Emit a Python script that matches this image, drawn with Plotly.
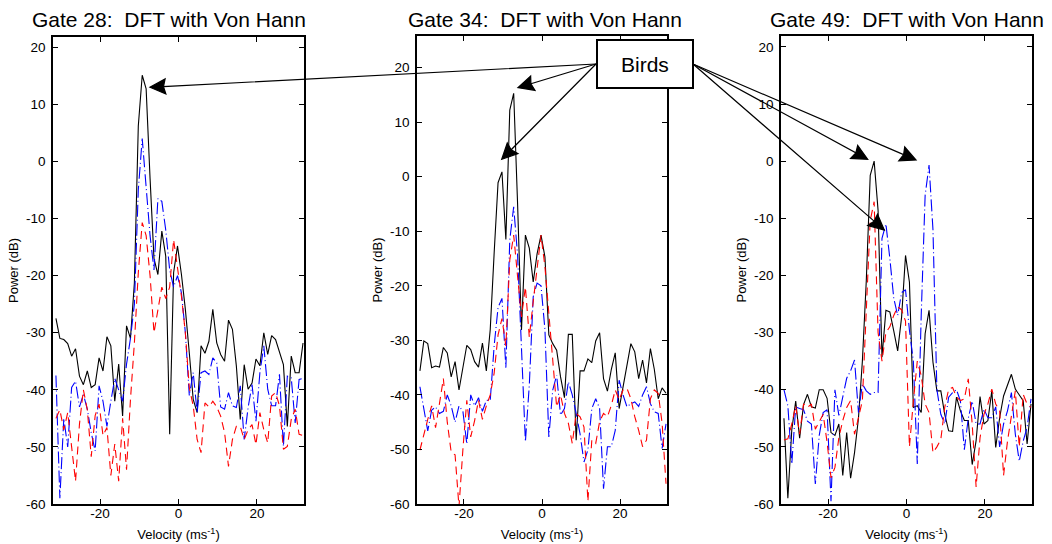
import math
import plotly.graph_objects as go

W, H = 1052, 544

# ---------------- data ----------------
VELOCITY = [-31.25 + k for k in range(64)]  # m/s, 64 Doppler bins
X_TICKS = [-20, 0, 20]
X_TICK_TEXT = ["-20", "0", "20"]
Y_TICKS = [-60, -50, -40, -30, -20, -10, 0, 10, 20]
Y_TICK_TEXT = ["-60", "-50", "-40", "-30", "-20", "-10", "0", "10", "20"]
TITLES = ["Gate 28:\u00a0\u00a0DFT with Von Hann",
          "Gate 34:\u00a0\u00a0DFT with Von Hann",
          "Gate 49:\u00a0\u00a0DFT with Von Hann"]
X_LABEL = "Velocity (ms<sup>-1</sup>)"
Y_LABEL = "Power (dB)"

G28_BLACK = [-27.5, -31.0, -31.2, -31.9, -34.1, -32.8, -37.6, -39.1, -36.7, -39.6, -39.1, -34.4, -36.7, -30.7, -32.3, -42.0,
             -35.5, -44.6, -28.8, -31.0, -21.3, 6.2, 15.1, 12.7, -3.0, -17.0, -19.8, -12.2, -16.6, -47.8, -19.5, -14.8,
             -19.8, -25.9, -33.5, -41.7, -44.0, -32.3, -33.6, -31.5, -25.9, -31.8, -33.8, -35.0, -27.8, -29.4, -35.8, -45.2,
             -35.6, -39.9, -38.8, -34.6, -35.8, -30.0, -33.8, -30.5, -31.2, -33.2, -35.6, -46.4, -34.1, -37.0, -37.0, -31.8]
G28_BLUE = [-37.5, -59.0, -45.0, -50.0, -39.6, -38.5, -43.0, -40.8, -43.4, -47.5, -50.7, -39.3, -42.0, -46.4, -42.0, -38.0,
            -40.0, -42.0, -35.5, -31.0, -25.0, -5.0, 4.0, -4.0, -13.0, -19.0, -6.5, -7.0, -12.0, -19.0, -22.0, -20.0,
            -23.0, -30.0, -41.0, -37.0, -44.0, -37.0, -36.7, -37.3, -34.4, -35.3, -43.0, -43.4, -40.5, -42.8, -43.1, -39.3,
            -48.7, -43.1, -39.1, -45.5, -37.0, -32.3, -39.9, -42.8, -42.8, -37.3, -49.9, -37.6, -37.9, -45.8, -38.2, -38.0]
G28_RED = [-45.0, -43.5, -47.0, -44.0, -50.0, -56.0, -46.0, -40.0, -43.5, -51.7, -44.5, -42.5, -48.0, -46.6, -55.0, -49.5,
           -56.0, -45.0, -54.0, -41.7, -31.8, -19.5, -10.7, -13.0, -20.0, -30.0, -26.0, -22.0, -24.0, -22.0, -13.7, -18.6,
           -23.6, -30.0, -39.6, -42.8, -48.7, -51.0, -42.3, -43.0, -42.0, -43.0, -44.6, -47.5, -53.4, -48.7, -46.4, -46.4,
           -48.7, -47.0, -46.1, -49.6, -44.0, -47.0, -49.3, -41.1, -40.5, -42.8, -50.4, -49.9, -45.2, -43.4, -47.8, -48.0]

G34_BLACK = [-35.6, -30.1, -30.6, -35.0, -34.7, -34.9, -31.3, -32.3, -36.7, -33.9, -39.1, -34.9, -30.9, -31.7, -33.9, -34.9,
             -30.5, -35.6, -28.0, -14.0, -1.1, 0.9, -11.5, 12.2, 15.3, -5.0, -28.1, -10.7, -13.1, -19.3, -14.1, -10.7,
             -14.7, -29.0, -30.6, -31.8, -36.7, -40.5, -28.9, -28.9, -48.3, -35.6, -35.6, -33.4, -34.1, -30.1, -28.6, -37.0,
             -39.3, -35.3, -32.3, -42.5, -38.5, -34.2, -30.6, -32.1, -37.0, -33.6, -37.8, -31.5, -35.3, -40.7, -38.7, -39.7]
G34_BLUE = [-38.5, -42.5, -46.6, -42.8, -42.2, -43.4, -43.0, -40.0, -42.0, -45.0, -42.0, -43.0, -49.0, -40.0, -42.0, -40.5,
            -43.0, -41.0, -41.0, -31.0, -24.0, -22.3, -35.0, -11.6, -5.5, -14.4, -30.0, -48.6, -38.2, -22.0, -19.5, -20.0,
            -28.0, -47.7, -39.1, -36.4, -43.7, -42.5, -37.6, -40.0, -43.4, -47.2, -52.3, -50.1, -42.5, -40.7, -42.5, -57.2,
            -49.5, -49.5, -46.5, -37.3, -40.0, -42.2, -41.6, -41.3, -42.1, -40.0, -38.5, -41.6, -43.1, -43.4, -49.8, -45.3]
G34_RED = [-50.1, -47.0, -44.5, -42.0, -46.0, -41.6, -37.0, -45.0, -50.5, -51.0, -60.5, -50.0, -41.0, -47.7, -44.7, -41.0,
           -44.5, -42.0, -40.0, -36.0, -29.0, -26.0, -31.0, -15.3, -10.7, -18.3, -25.7, -20.2, -29.4, -22.9, -17.1, -10.7,
           -16.5, -25.7, -33.6, -42.2, -40.0, -43.4, -45.2, -48.9, -43.4, -44.0, -45.9, -59.5, -48.3, -48.9, -44.9, -43.4,
           -44.0, -41.9, -39.1, -40.9, -39.1, -38.8, -40.7, -44.0, -46.5, -49.5, -48.3, -40.7, -39.1, -39.7, -45.2, -56.3]

G49_BLACK = [-45.0, -59.0, -47.0, -42.0, -48.5, -42.6, -40.8, -43.0, -43.2, -40.0, -40.0, -41.5, -47.5, -48.0, -46.0, -55.0,
             -47.5, -55.5, -51.0, -45.0, -35.0, -20.9, -2.5, 0.0, -8.6, -34.3, -26.1, -26.4, -29.7, -33.2, -27.3, -16.5,
             -21.2, -43.1, -42.8, -44.0, -30.2, -26.1, -35.2, -40.2, -40.2, -44.3, -47.2, -47.3, -41.3, -43.7, -45.4, -45.4,
             -53.1, -48.9, -41.2, -46.0, -45.4, -40.2, -50.1, -44.9, -41.1, -39.3, -37.3, -39.9, -40.8, -41.9, -49.5, -42.5]
G49_BLUE = [-40.0, -42.8, -53.0, -43.0, -43.3, -43.5, -45.5, -46.0, -56.5, -48.0, -44.0, -43.5, -59.5, -40.0, -44.5, -41.5,
            -38.0, -36.7, -34.8, -44.0, -39.0, -40.2, -40.8, -40.5, -40.5, -13.5, -11.0, -17.0, -24.0, -27.0, -23.0, -22.5,
            -29.6, -35.0, -53.0, -27.0, -6.0, -0.7, -12.0, -40.0, -44.3, -46.0, -41.3, -40.5, -40.0, -42.0, -50.5, -45.0,
            -42.0, -46.0, -46.0, -43.4, -44.9, -44.9, -43.0, -50.0, -46.0, -43.7, -40.5, -47.8, -52.5, -49.0, -46.6, -41.6]
G49_RED = [-48.8, -48.6, -46.0, -42.8, -47.8, -42.5, -43.1, -42.5, -46.9, -45.7, -44.3, -49.2, -55.4, -53.6, -48.4, -45.4,
           -43.1, -41.9, -47.8, -44.9, -41.9, -26.1, -10.4, -7.1, -30.0, -35.0, -30.0, -29.0, -27.0, -25.5, -26.0, -28.0,
           -50.0, -42.0, -35.0, -37.5, -42.5, -44.0, -51.0, -50.0, -48.7, -43.1, -39.9, -39.6, -41.3, -41.9, -41.6, -38.1,
           -46.0, -57.0, -48.4, -44.3, -42.5, -39.9, -42.5, -43.7, -55.0, -49.0, -44.9, -40.2, -50.0, -40.8, -42.5, -43.1]

SERIES = [
    (G28_BLACK, G28_BLUE, G28_RED),
    (G34_BLACK, G34_BLUE, G34_RED),
    (G49_BLACK, G49_BLUE, G49_RED),
]

# ---------------- layout (pixels) ----------------
PANELS = [
    dict(left=53, right=304, top=37, bottom=504, ytop=21.8, title_x=169),
    dict(left=417, right=667, top=36, bottom=504, ytop=25.8, title_x=545),
    dict(left=781, right=1032, top=36, bottom=504, ytop=21.9, title_x=907),
]
FONT = "Liberation Sans, Arial, Helvetica, sans-serif"

STYLES = [
    dict(color="#000000", width=1.1, dash="solid"),
    dict(color="#0000ff", width=1.1, dash="12px,3px,1px,3px"),
    dict(color="#ff0000", width=1.1, dash="8px,5px"),
]

fig = go.Figure()
layout = dict(
    width=W, height=H, margin=dict(l=0, r=0, t=0, b=0),
    paper_bgcolor="white", plot_bgcolor="white", showlegend=False,
    font=dict(family=FONT, color="black", size=13),
)
annotations = []

for k, (p, series) in enumerate(zip(PANELS, SERIES)):
    sfx = "" if k == 0 else str(k + 1)
    xa, ya = "x" + sfx, "y" + sfx
    for vals, st in zip(series, STYLES):
        fig.add_trace(go.Scatter(x=VELOCITY, y=vals, mode="lines", xaxis=xa, yaxis=ya,
                                 line=dict(color=st["color"], width=st["width"], dash=st["dash"]),
                                 hoverinfo="skip"))
    common = dict(showline=True, linecolor="black", linewidth=1.5, mirror="allticks",
                  ticks="inside", ticklen=5, tickwidth=1, tickcolor="black", automargin=False,
                  showgrid=False, zeroline=False, tickfont=dict(family=FONT, size=13.5, color="black"))
    layout["xaxis" + sfx] = dict(domain=[p["left"] / W, p["right"] / W], range=[-32, 32],
                                 tickvals=X_TICKS, ticktext=X_TICK_TEXT, anchor=ya,
                                 ticklabelstandoff=-4,
                                 title=dict(text=X_LABEL, standoff=10, font=dict(family=FONT, size=13, color="black")),
                                 **common)
    layout["yaxis" + sfx] = dict(domain=[1 - p["bottom"] / H, 1 - p["top"] / H], range=[-60, p["ytop"]],
                                 tickvals=Y_TICKS, ticktext=Y_TICK_TEXT, anchor=xa,
                                 ticklabelstandoff=3,
                                 title=dict(text=Y_LABEL, standoff=4, font=dict(family=FONT, size=13, color="black")),
                                 **common)
    annotations.append(dict(text=TITLES[k], x=p["title_x"] / W, y=1 - 20 / H, xref="paper", yref="paper",
                            xanchor="center", yanchor="middle", showarrow=False,
                            font=dict(family=FONT, size=21, color="black")))

# Birds label box and arrows (each arrow drawn as one path shape)
BOX = dict(x0=597, x1=693, y0=40, y1=88)
annotations.append(dict(text="Birds", x=(BOX["x0"] + BOX["x1"]) / 2 / W, y=1 - 64 / H,
                        xref="paper", yref="paper", xanchor="center", yanchor="middle", showarrow=False,
                        font=dict(family=FONT, size=21, color="black")))
ARROWS = [  # (tail_x, tail_y, tip_x, tip_y) in pixels
    (596, 64, 150, 87.3),
    (596, 64, 518, 87.7),
    (596, 64, 501.7, 159.3),
    (693, 64, 867.7, 159.3),
    (693, 64, 916, 160),
    (693, 64, 884.3, 230),
]
HEAD_LEN, HEAD_HALF = 15.5, 7.5


def px(x, y):
    return x / W, 1 - y / H


shapes = []
for tx, ty, hx, hy in ARROWS:
    dx, dy = hx - tx, hy - ty
    L = math.hypot(dx, dy)
    ux, uy = dx / L, dy / L
    bx, by = hx - ux * HEAD_LEN, hy - uy * HEAD_LEN
    nx, ny = -uy, ux
    tail = px(tx, ty)
    base = px(bx + ux * 2, by + uy * 2)
    tip = px(hx, hy)
    c1 = px(bx + nx * HEAD_HALF, by + ny * HEAD_HALF)
    c2 = px(bx - nx * HEAD_HALF, by - ny * HEAD_HALF)
    path = ("M{:.5f},{:.5f} L{:.5f},{:.5f} L{:.5f},{:.5f} L{:.5f},{:.5f} L{:.5f},{:.5f} L{:.5f},{:.5f} Z"
            .format(*tail, *base, *c1, *tip, *c2, *base))
    shapes.append(dict(type="path", xref="paper", yref="paper", path=path,
                       line=dict(color="black", width=1.2), fillcolor="black", layer="above"))

shapes.append(dict(type="rect", xref="paper", yref="paper",
                   x0=BOX["x0"] / W, x1=BOX["x1"] / W, y0=1 - BOX["y1"] / H, y1=1 - BOX["y0"] / H,
                   line=dict(color="black", width=2), fillcolor="white", layer="above"))

layout["annotations"] = annotations
layout["shapes"] = shapes
fig.update_layout(**layout)
fig.write_html("out.html")
